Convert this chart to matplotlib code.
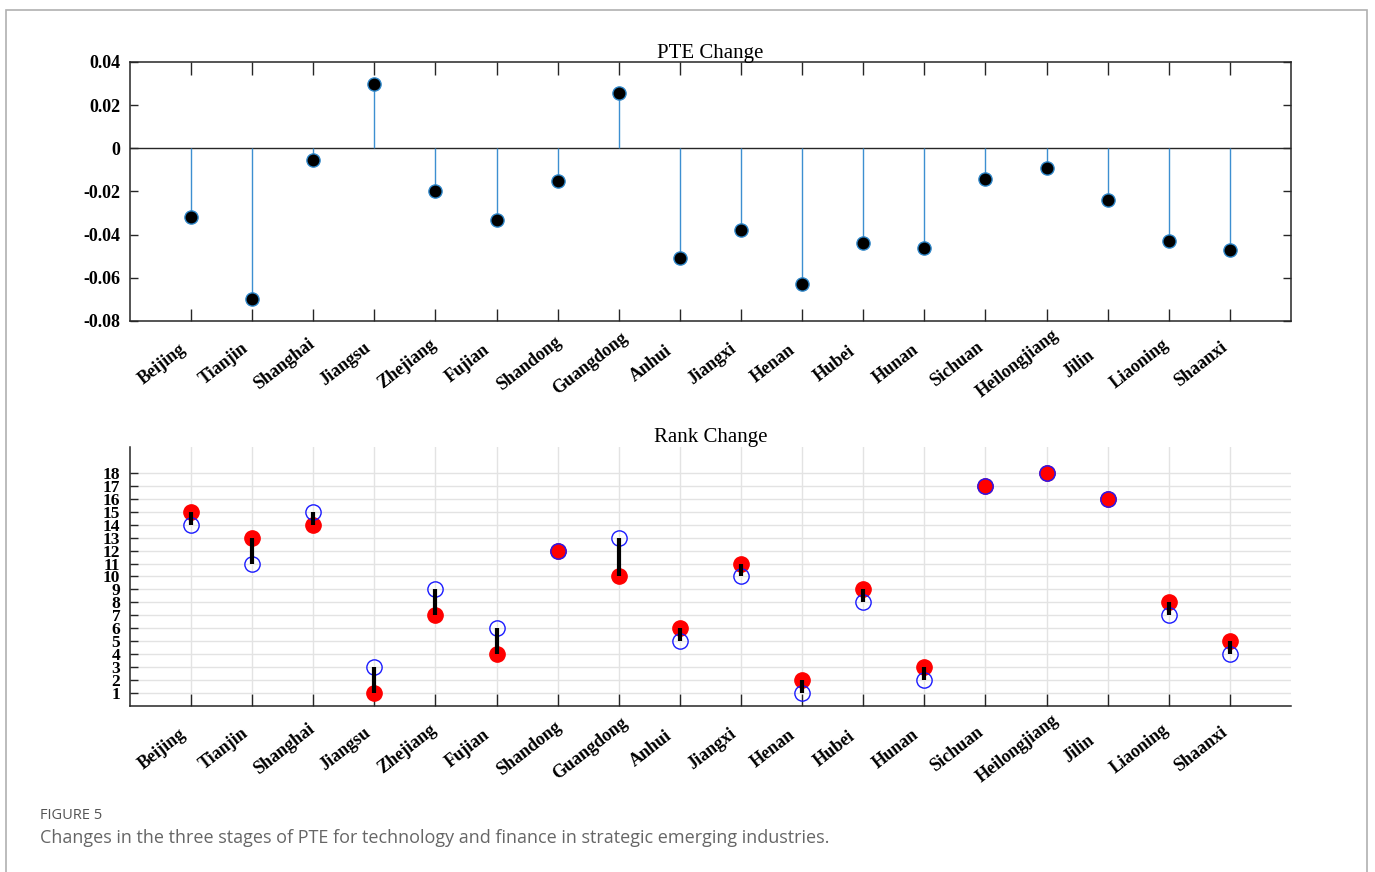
import matplotlib.pyplot as plt
import matplotlib.patches as patches
import numpy as np

provinces = ['Beijing', 'Tianjin', 'Shanghai', 'Jiangsu', 'Zhejiang', 'Fujian',
             'Shandong', 'Guangdong', 'Anhui', 'Jiangxi', 'Henan', 'Hubei',
             'Hunan', 'Sichuan', 'Heilongjiang', 'Jilin', 'Liaoning', 'Shaanxi']

pte_change = [-0.032, -0.070, -0.0055, 0.030, -0.020, -0.033,
              -0.015, 0.0255, -0.051, -0.038, -0.063, -0.044,
              -0.046, -0.014, -0.009, -0.024, -0.043, -0.047]

rank_new = [15, 13, 14, 1, 7, 4, 12, 10, 6, 11, 2, 9, 3, 17, 18, 16, 8, 5]
rank_old = [14, 11, 15, 3, 9, 6, 12, 13, 5, 10, 1, 8, 2, 17, 18, 16, 7, 4]

x = np.arange(1, len(provinces) + 1)

serif = ['Liberation Serif', 'DejaVu Serif']
plt.rcParams['font.family'] = serif

fig = plt.figure(figsize=(13.75, 8.72), dpi=100)

# outer frame
fig.patches.append(patches.Rectangle((6 / 1375, -0.05), 1361 / 1375, 1 - 10 / 872 + 0.05,
                                     transform=fig.transFigure, fill=False,
                                     edgecolor='#b0b0b0', linewidth=1.2))

axes_color = '#262626'


def province_labels(ax):
    # tick marks on the majors, rotated names on minors set a bit to the left
    ax.set_xticks(x)
    ax.set_xticklabels([])
    ax.set_xticks(x - 0.47, minor=True)
    ax.set_xticklabels(provinces, minor=True, rotation=38, ha='center',
                       va='center', fontweight='bold', fontsize=13)
    ax.tick_params(axis='x', which='minor', length=0, pad=31, top=False)


# ---- PTE change (stem) ----
ax1 = fig.add_axes([0.0945, 0.6319, 0.8444, 0.2970])
ax1.axhline(0, color=axes_color, linewidth=1.0, zorder=2)
ax1.vlines(x, 0, pte_change, color='#3d8fd1', linewidth=1.0, zorder=2)
ax1.plot(x, pte_change, 'o', markersize=9.5, markerfacecolor='black',
         markeredgecolor='#2f86c8', markeredgewidth=1.0, zorder=3)
ax1.set_xlim(0, 19)
ax1.set_ylim(-0.08, 0.04)
ax1.set_yticks([-0.08, -0.06, -0.04, -0.02, 0, 0.02, 0.04])
ax1.set_yticklabels(['-0.08', '-0.06', '-0.04', '-0.02', '0', '0.02', '0.04'])
province_labels(ax1)
ax1.tick_params(axis='x', which='major', direction='in', length=9, top=True,
                color=axes_color, width=1.0)
ax1.tick_params(axis='y', direction='in', length=6, right=True, pad=7,
                color=axes_color, width=1.0, labelsize=13)
for lab in ax1.get_yticklabels():
    lab.set_fontweight('bold')
for s in ax1.spines.values():
    s.set_color(axes_color)
    s.set_linewidth(1.1)
ax1.set_title('PTE Change', fontsize=15, pad=3)

# ---- Rank change (dumbbell) ----
ax2 = fig.add_axes([0.0945, 0.1904, 0.8444, 0.2970])
ax2.plot(x, rank_new, 'o', markersize=11, markerfacecolor='red',
         markeredgecolor='red', zorder=3)
ax2.plot(x, rank_old, 'o', markersize=11, markerfacecolor='none',
         markeredgecolor='#1a1aff', markeredgewidth=1.0, zorder=4)
ax2.vlines(x, rank_new, rank_old, color='black', linewidth=3, zorder=5)
ax2.set_xlim(0, 19)
ax2.set_ylim(0, 20)
ax2.set_yticks(range(1, 19))
province_labels(ax2)
ax2.tick_params(axis='x', which='major', direction='in', length=9,
                color=axes_color, width=1.0)
ax2.tick_params(axis='y', direction='in', length=6, pad=7,
                color=axes_color, width=1.0, labelsize=12.5)
for lab in ax2.get_yticklabels():
    lab.set_fontweight('bold')
ax2.grid(True, which='major', color='#e3e3e3', linewidth=1.0, zorder=0)
ax2.set_axisbelow(True)
ax2.spines['top'].set_visible(False)
ax2.spines['right'].set_visible(False)
for s in ('left', 'bottom'):
    ax2.spines[s].set_color(axes_color)
    ax2.spines[s].set_linewidth(1.1)
ax2.set_title('Rank Change', fontsize=15, pad=3)

# caption
fig.text(40 / 1375, 1 - 815 / 872, 'FIGURE 5', fontsize=10.5, color='#555555',
         family=['Open Sans', 'DejaVu Sans'], va='center')
fig.text(40 / 1375, 1 - 838 / 872,
         'Changes in the three stages of PTE for technology and finance in strategic emerging industries.',
         fontsize=13, color='#666666', family=['Open Sans', 'DejaVu Sans'], va='center')

fig.savefig('out.png', dpi=100)
